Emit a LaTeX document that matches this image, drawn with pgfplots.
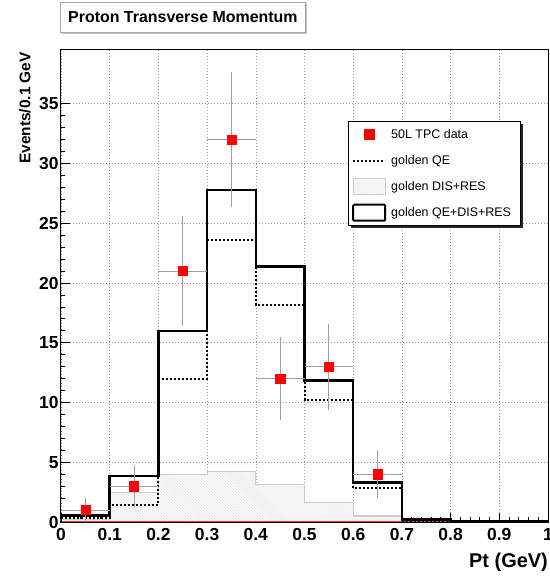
\documentclass[border=0pt]{standalone}
\usepackage{fontspec}
\setmainfont{Liberation Sans}
\usepackage{pgfplots}
\pgfplotsset{compat=1.18}
\usepackage{pgfplotstable}
\usetikzlibrary{patterns,shadows}

\pgfplotstableread{
x    y   ex    ey
0.05 1   0.05  1.0
0.15 3   0.05  1.73
0.25 21  0.05  4.58
0.35 32  0.05  5.66
0.45 12  0.05  3.46
0.55 13  0.05  3.61
0.65 4   0.05  2.0
}\datatab

\begin{document}
\begin{tikzpicture}
\begin{axis}[
  scale only axis, width=487bp, height=472bp,
  at={(0,0)}, anchor=south west,
  xmin=0, xmax=1, ymin=0, ymax=39.5,
  axis line style={black, line width=1bp},
  xtick={0,0.1,0.2,0.3,0.4,0.5,0.6,0.7,0.8,0.9,1},
  xticklabels={0,0.1,0.2,0.3,0.4,0.5,0.6,0.7,0.8,0.9,1},
  ytick={0,5,10,15,20,25,30,35},
  yticklabels={0,5,10,15,20,25,30,35},
  minor x tick num=4, minor y tick num=4,
  tick align=inside, tick pos=left,
  major tick length=9bp, minor tick length=4.5bp,
  every tick/.style={black, line width=0.8bp},
  grid=major,
  major grid style={gray!80, line width=0.6bp, dash pattern=on 1bp off 2bp},
  tick label style={font=\bfseries\fontsize{17.5}{17.5}\selectfont},
  /pgf/number format/assume math mode=true,
  yticklabel style={xshift=1bp},
  xticklabel style={yshift=-3bp},
  legend style={at={(0.589,0.849)}, anchor=north west,
    draw=black, line width=0.8bp, fill=white,
    inner xsep=4bp, inner ysep=0bp, row sep=0bp,
    font=\fontsize{12.5}{13}\selectfont,
    nodes={inner ysep=0bp, inner xsep=5bp, minimum height=26bp}},
  legend cell align=left,
]
\addlegendimage{legend image code/.code={\path[draw=none, fill=none] (0bp,-8bp) rectangle (32bp,8bp);\fill[red] (11bp,-5bp) rectangle (21bp,5bp);}}
\addlegendentry{50L TPC data}
\addlegendimage{legend image code/.code={\path[draw=none, fill=none] (0bp,-8bp) rectangle (32bp,8bp);\draw[black, line width=2bp, dash pattern=on 2bp off 2bp] (0bp,0bp) -- (32bp,0bp);}}
\addlegendentry{golden QE}
\addlegendimage{legend image code/.code={\draw[gray!40, line width=0.8bp, fill=gray!4, postaction={pattern=north west lines, pattern color=gray!22}] (0bp,-8bp) rectangle (32bp,8bp);}}
\addlegendentry{golden DIS+RES}
\addlegendimage{legend image code/.code={\draw[black, line width=2bp, fill=white, rounded corners=1bp] (0bp,-8bp) rectangle (32bp,8bp);}}
\addlegendentry{golden QE+DIS+RES}

% DIS+RES
\addplot[const plot mark left, draw=gray!40, line width=1.2bp, fill=gray!4,
  postaction={pattern=north west lines, pattern color=gray!22}, forget plot]
  coordinates {(0,0.2) (0.1,2.5) (0.2,3.95) (0.3,4.25) (0.4,3.15) (0.5,1.65) (0.6,0.5) (0.7,0.1) (0.8,0.1)} \closedcycle;
% baseline
\addplot[red!80, line width=0.6bp, forget plot] coordinates {(0,0.1) (1,0.1)};
% golden QE
\addplot[const plot mark left, black, line width=2bp, dash pattern=on 2bp off 2bp, forget plot]
  coordinates {(0,0) (0,0.35) (0.1,1.4) (0.2,12) (0.3,23.6) (0.4,18.2) (0.5,10.2) (0.6,2.85) (0.7,0.1) (0.8,0.02) (1.0,0.02)};
% total
\addplot[const plot mark left, black, line width=2.5bp, forget plot]
  coordinates {(0,0) (0,0.55) (0.1,3.85) (0.2,16) (0.3,27.8) (0.4,21.4) (0.5,11.85) (0.6,3.3) (0.7,0.2) (0.8,0.05) (1.0,0.05)};
% data
\addplot[only marks, mark=square*, mark size=4.6bp, color=red, forget plot,
  error bars/.cd, x dir=both, x explicit, y dir=both, y explicit,
  error bar style={gray!75, line width=0.9bp}, error mark=none]
  table[x=x, y=y, x error=ex, y error=ey] {\datatab};
% legend shadow
\fill[black!85] (axis description cs:0.5955,0.8426) rectangle (axis description cs:0.9487,0.6229);
\end{axis}
\begin{scope}[shift={(current axis.south west)}]
\node[draw=gray!70, line width=0.8bp, fill=white, minimum width=245bp, minimum height=30bp,
  anchor=north west, font=\bfseries\fontsize{16}{16}\selectfont,
  drop shadow={shadow xshift=1.5bp, shadow yshift=-1.5bp, fill=gray!50, opacity=1}]
  at (-1bp,520bp) {Proton Transverse Momentum};
\node[rotate=90, anchor=east, inner sep=0pt, font=\bfseries\fontsize{15.5}{16}\selectfont]
  at (-36bp,470bp) {Events/0.1 GeV};
\node[anchor=east, inner sep=0pt, font=\bfseries\fontsize{20}{20}\selectfont]
  at (487bp,-40bp) {Pt (GeV)};
\pgfresetboundingbox
\useasboundingbox (-61bp,-54bp) rectangle (489bp,522bp);
\end{scope}
\end{tikzpicture}
\end{document}
